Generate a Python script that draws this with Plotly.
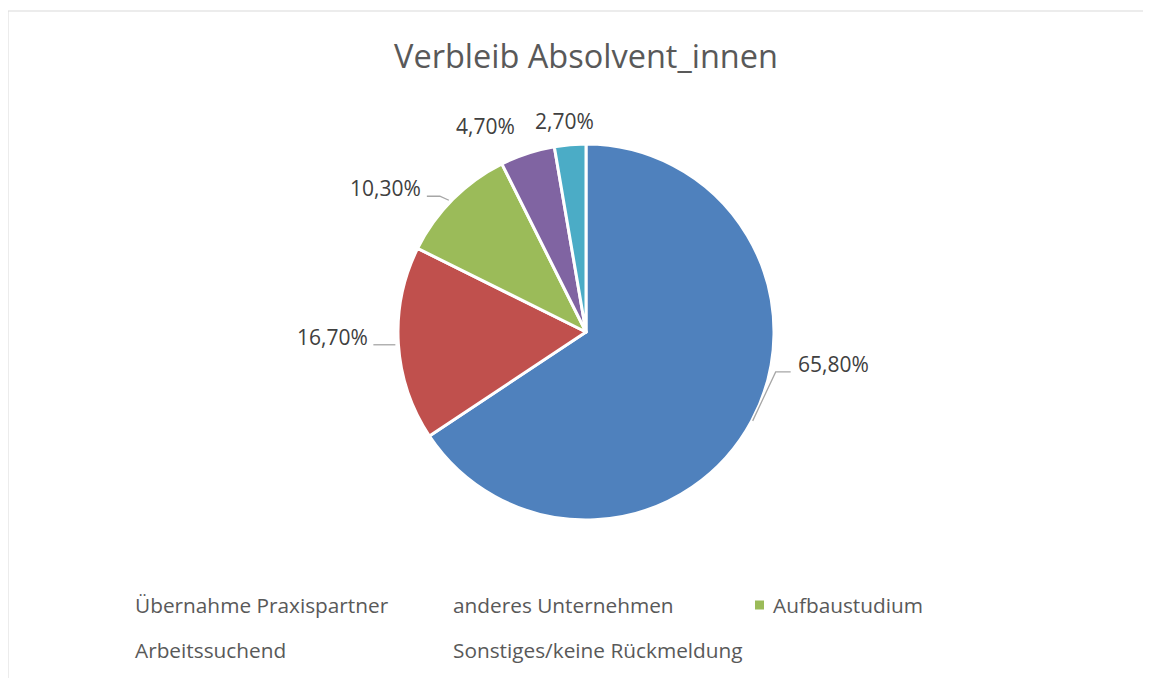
import math
import plotly.graph_objects as go

# ---- data ----
categories = ["Übernahme Praxispartner", "anderes Unternehmen", "Aufbaustudium",
              "Arbeitssuchend", "Sonstiges/keine Rückmeldung"]
values = [65.8, 16.7, 10.3, 4.7, 2.7]
title_text = "Verbleib Absolvent_innen"

# ---- style ----
colors = ["#4F81BD", "#C0504D", "#9BBB59", "#8064A2", "#4BACC6"]
W, H = 1143, 670
OFF = 8                             # page body margin
CX, CY, R = 586, 332, 188          # pie centre / radius in screen px
FONT = "Open Sans"
label_color = "#404040"
text_color = "#595959"
leader_color = "#A6A6A6"

# label text offsets from slice-edge midpoint (px) and anchors
label_offsets = [(44, -57, "left"), (-28, -7, "right"), (-30, -11, "right"),
                 (-42, -27, "center"), (-6, -24, "center")]
# leader line polylines relative to slice-edge midpoint (px); None = no leader
leaders = [[(1, 0), (24, -49), (39, -49)],
           [(-3, 1), (-25, 1)],
           [(-4, 1), (-13, -3), (-26, -3)],
           None, None]

# legend layout (screen px)
legend_pos = [(133, 605), (451, 605), (771, 605), (133, 650), (451, 650)]
legend_marker = [False, False, True, False, False]


def px(x):
    return (x - OFF) / W


def py(y):
    return 1 - (y - OFF) / H


fig = go.Figure(go.Pie(
    labels=categories,
    values=values,
    sort=False,
    direction="clockwise",
    rotation=0,
    marker=dict(colors=colors, line=dict(color="white", width=3)),
    textinfo="none",
    hoverinfo="label+percent",
    showlegend=False,
    domain=dict(x=[px(CX - R), px(CX + R)], y=[py(CY + R), py(CY - R)]),
))

annotations = []
shapes = []
total = sum(values)
cum = 0.0
for i, v in enumerate(values):
    mid = (cum + v / 2) / total * 2 * math.pi
    cum += v
    ex = CX + R * math.sin(mid)
    ey = CY - R * math.cos(mid)
    dx, dy, anchor = label_offsets[i]
    annotations.append(dict(
        x=px(ex + dx), y=py(ey + dy), xref="paper", yref="paper",
        text=f"{v:.2f}".replace(".", ",") + "%", showarrow=False,
        xanchor=anchor, yanchor="middle",
        font=dict(family=FONT, size=21, color=label_color)))
    if leaders[i]:
        pts = leaders[i]
        path = "M " + " L ".join(f"{px(ex + a)},{py(ey + b)}" for a, b in pts)
        shapes.append(dict(type="path", xref="paper", yref="paper", path=path,
                           line=dict(color=leader_color, width=1.3)))

# custom legend
for i, name in enumerate(categories):
    lx, ly = legend_pos[i]
    annotations.append(dict(
        x=px(lx), y=py(ly), xref="paper", yref="paper", text=name,
        showarrow=False, xanchor="left", yanchor="middle",
        font=dict(family=FONT, size=20.8, color=text_color)))
    if legend_marker[i]:
        shapes.append(dict(type="rect", xref="paper", yref="paper",
                           x0=px(lx - 16), x1=px(lx - 7), y0=py(ly - 4.5), y1=py(ly + 4.5),
                           fillcolor=colors[i], line=dict(width=0)))

# title
annotations.append(dict(
    x=px(CX), y=py(56), xref="paper", yref="paper", text=title_text,
    showarrow=False, xanchor="center", yanchor="middle",
    font=dict(family=FONT, size=32.5, color=text_color)))

# chart border (top and left visible)
shapes.append(dict(type="line", xref="paper", yref="paper",
                   x0=px(8), x1=1, y0=py(11), y1=py(11),
                   line=dict(color="#D9D9D9", width=1)))
shapes.append(dict(type="line", xref="paper", yref="paper",
                   x0=px(8), x1=px(8), y0=py(11), y1=0,
                   line=dict(color="#D9D9D9", width=1)))

fig.update_layout(
    width=W, height=H,
    margin=dict(l=0, r=0, t=0, b=0),
    paper_bgcolor="white", plot_bgcolor="white",
    annotations=annotations, shapes=shapes,
)

fig.write_html("out.html")
